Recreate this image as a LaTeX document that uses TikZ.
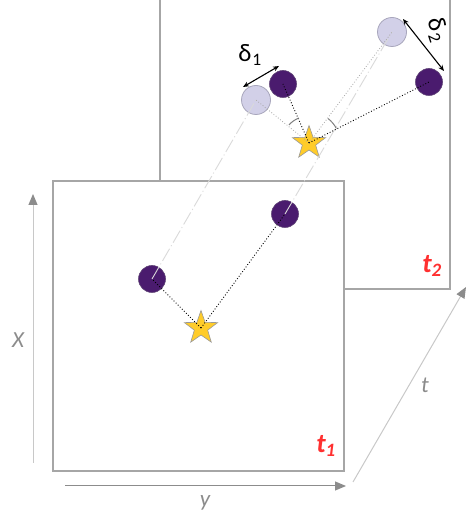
\documentclass[tikz,border=0pt]{standalone}
\usepackage{fontspec}
\setmainfont{Carlito}
\usetikzlibrary{arrows.meta,shapes.geometric}
\definecolor{boxgray}{HTML}{A6A6A6}
\definecolor{axgray}{HTML}{8C8C8C}
\definecolor{axlight}{HTML}{C8C8C8}
\definecolor{purp}{HTML}{4A1B6E}
\definecolor{lav}{HTML}{D2D0E8}
\definecolor{lavline}{HTML}{A8A6BC}
\definecolor{staryel}{HTML}{FFCC2A}
\definecolor{tred}{HTML}{FF3030}
\definecolor{trail}{HTML}{DADADA}
\tikzset{
  frame/.style={draw=boxgray, line width=1.2pt, fill=white},
  dark/.style={circle, fill=purp, draw=purp!60!gray, line width=0.6pt, minimum size=27pt, inner sep=0pt},
  pale/.style={circle, fill=lav, draw=lavline, line width=0.8pt, minimum size=29pt, inner sep=0pt},
  starnode/.style={star, star points=5, star point ratio=2.5, minimum size=35pt, inner sep=0pt, fill=staryel, draw=gray!80, line width=0.6pt},
  link/.style={dotted, line width=0.9pt, black},
  palelink/.style={dotted, line width=0.8pt, gray!70},
  trailline/.style={draw=trail, line width=0.9pt, dash pattern=on 14pt off 3pt on 1pt off 3pt},
  axis/.style={line width=1pt, -{Triangle[length=11pt,width=9pt,color=axgray]}},
  axlabel/.style={text=axgray, font=\fontsize{23}{23}\selectfont\itshape},
  tlabel/.style={text=tred, font=\fontsize{27}{27}\selectfont\bfseries\itshape},
  delta/.style={line width=1.1pt, {Stealth[length=6pt,width=5pt]}-{Stealth[length=6pt,width=5pt]}},
  deltalabel/.style={font=\fontsize{25}{25}\selectfont, inner sep=1pt},
  anglearc/.style={draw=gray, line width=1pt}
}
\begin{document}
\begin{tikzpicture}[x=1pt,y=1pt]
\useasboundingbox (0,0) rectangle (466,524);
% back frame (t2)
\fill[white] (160,235) rectangle (450,530);
\draw[draw=boxgray, line width=1.2pt] (160,530) -- (160,235) -- (450,235) -- (450,530);
% front frame (t1)
\draw[frame] (53,53) rectangle (344,343);
\node[tlabel] (t1) at (326,78) {t\textsubscript{1}};
\node[tlabel] (t2) at (432,258) {t\textsubscript{2}};
% axes
\coordinate (xa) at (33,61); \coordinate (xb) at (33,330);
\coordinate (ya) at (65,38); \coordinate (yb) at (346,38);
\coordinate (ta) at (353,42); \coordinate (tb) at (466,237);
\draw[axis, axlight] (xa) -- (xb);
\draw[axis, axgray] (ya) -- (yb);
\draw[axis, axlight] (ta) -- (tb);
\node[axlabel] (xl) at (18,184) {X};
\node[axlabel] (yl) at (205,21) {y};
\node[axlabel] (tl) at (425,139) {t};
% front objects
\node[dark] (F1) at (152,245) {};
\node[dark] (F2) at (285,310) {};
\node[starnode] (S1) at (201,196) {};
\draw[link] (S1.center) -- (F1.center);
\draw[link] (S1.center) -- (F2.center);
% back objects
\node[pale] (L1) at (256,424) {};
\node[dark] (P1) at (283,440) {};
\node[pale] (L2) at (392,492) {};
\node[dark] (P2) at (429,442) {};
\node[starnode] (S2) at (309,381) {};
% trails from t1 to t2
\draw[trailline] (F1.center) -- (L1.center);
\draw[trailline] (F2.center) -- (L2.center);
\draw[palelink] (S2.center) -- (L1.center);
\draw[palelink] (S2.center) -- (L2.center);
\draw[link] (S2.center) -- (P1.center);
\draw[link] (S2.center) -- (P2.center);
% angle arcs
\draw[anglearc] ([shift={(112:27pt)}]S2.center) arc[start angle=112, end angle=138, radius=27pt];
\draw[anglearc] ([shift={(28:31pt)}]S2.center) arc[start angle=28, end angle=52, radius=31pt];
% deltas
\coordinate (d1a) at (243,437); \coordinate (d1b) at (279,458);
\coordinate (d2a) at (403,505); \coordinate (d2b) at (444,453);
\draw[delta] (d1a) -- (d1b);
\draw[delta] (d2a) -- (d2b);
\node[deltalabel] (dl1) at (250,469) {δ\kern1pt\textsubscript{1}};
\node[deltalabel, rotate=-72] (dl2) at (437,494) {δ\kern1pt\textsubscript{2}};
\end{tikzpicture}
\end{document}
